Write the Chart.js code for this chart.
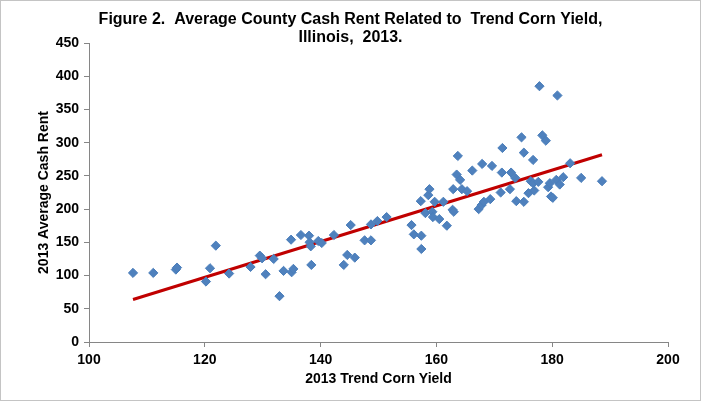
<!DOCTYPE html>
<html>
<head>
<meta charset="utf-8">
<title>Cash Rent vs Trend Corn Yield</title>
<script src="https://cdn.jsdelivr.net/npm/chart.js@4.4.1/dist/chart.umd.min.js"></script>
<style>
	html, body { margin: 0; padding: 0; background: #fff; }
	#wrap { width: 701px; height: 401px; position: relative; }
</style>
</head>
<body>
<div id="wrap"><canvas id="rentChart"></canvas></div>
<script>
// values
const titleLines = ['Figure 2.  Average County Cash Rent Related to  Trend Corn Yield,', 'Illinois,  2013.'];
const xTitle = '2013 Trend Corn Yield';
const yTitle = '2013 Average Cash Rent';
const xTicks = [100, 120, 140, 160, 180, 200];
const yTicks = [0, 50, 100, 150, 200, 250, 300, 350, 400, 450];

const trendYield = [
	107.6, 111.1, 115.0, 115.2, 120.2, 120.9, 121.9, 124.2, 127.9, 129.5,
	129.9, 130.5, 131.9, 132.9, 133.6, 135.0, 135.3, 134.9, 136.6, 138.0,
	138.1, 138.3, 138.4, 139.6, 140.2, 142.3, 144.0, 144.6, 145.2, 145.9,
	147.6, 148.7, 148.7, 149.8, 151.4, 155.7, 156.1, 157.4, 157.4, 157.3,
	158.1, 158.6, 158.8, 159.3, 159.4, 159.7, 160.5, 161.2, 161.8, 162.8,
	163.0, 162.9, 163.5, 163.7, 164.1, 164.4, 165.3, 166.2, 167.3, 167.8,
	168.2, 167.9, 169.3, 169.6, 171.1, 171.3, 171.4, 172.7, 172.9, 173.6,
	173.8, 174.7, 175.1, 175.1, 175.9, 177.8, 180.9, 178.3, 178.9, 176.7,
	183.1, 176.3, 176.7, 177.6, 176.9, 179.3, 179.6, 180.7, 181.3, 181.9,
	179.8, 180.1, 185.0, 188.6
];
const cashRent = [
	104, 104, 109, 112, 91, 111, 145, 103, 113, 130,
	126, 102, 125, 69, 107, 105, 110, 154, 161, 160,
	150, 144, 116, 152, 149, 161, 116, 131, 176, 127,
	153, 153, 177, 182, 188, 176, 162, 160, 140, 212,
	194, 221, 230, 196, 188, 211, 185, 211, 175, 199,
	196, 230, 252, 280, 244, 230, 227, 258, 200, 206,
	211, 268, 215, 265, 225, 255, 292, 230, 255, 247,
	212, 308, 285, 211, 224, 385, 371, 311, 303, 274,
	269, 242, 239, 241, 228, 233, 239, 244, 237, 248,
	219, 217, 247, 242
];

// trend line end points as drawn in the reference
const fitX = [107.6, 188.6];
const fitY = [63.9, 281.9];

const points = trendYield.map((x, i) => ({ x, y: cashRent[i] }));
const fitLine = fitX.map((x, i) => ({ x, y: fitY[i] }));

Chart.defaults.font.family = 'Arial, "Liberation Sans", sans-serif';
Chart.defaults.color = '#000';

const frame = {
	id: 'frame',
	beforeDraw(chart) {
		const { ctx, width, height } = chart;
		ctx.save();
		ctx.fillStyle = '#fff';
		ctx.fillRect(0, 0, width, height);
		ctx.restore();
	},
	afterDraw(chart) {
		const { ctx, width } = chart;
		ctx.save();
		ctx.strokeStyle = '#c4c4c4';
		ctx.lineWidth = 1;
		ctx.strokeRect(0.5, 0.5, 700, 400);
		ctx.fillStyle = '#000';
		ctx.font = 'bold 16px Arial, "Liberation Sans", sans-serif';
		ctx.textAlign = 'center';
		ctx.textBaseline = 'middle';
		titleLines.forEach((line, i) => ctx.fillText(line, width / 2, 20 + i * 18));
		ctx.restore();
	},
};

const axisGrid = {
	display: true,
	drawOnChartArea: false,
	drawTicks: true,
	tickLength: 5,
	color: '#868686',
};

new Chart(document.getElementById('rentChart'), {
	type: 'scatter',
	data: {
		datasets: [
			{
				label: 'Counties',
				data: points,
				pointStyle: 'rectRot',
				pointRadius: 4.6,
				pointBackgroundColor: '#4f81bd',
				pointBorderColor: '#4a7ebb',
				pointBorderWidth: 1,
				order: 0,
			},
			{
				label: 'Trend',
				data: fitLine,
				showLine: true,
				borderColor: '#c00000',
				borderWidth: 3,
				pointRadius: 0,
				order: 1,
			},
		],
	},
	options: {
		responsive: true,
		maintainAspectRatio: false,
		animation: false,
		layout: { padding: { top: 43, right: 33, bottom: 0, left: 0 } },
		plugins: {
			legend: { display: false },
			tooltip: { enabled: false },
		},
		scales: {
			x: {
				type: 'linear',
				min: 100,
				max: 200,
				afterBuildTicks: s => { s.ticks = xTicks.map(v => ({ value: v })); },
				afterFit: s => { s.height = 59; },
				grid: axisGrid,
				border: { display: true, color: '#868686', width: 1 },
				ticks: { padding: 5, font: { size: 14, weight: 'bold' }, maxRotation: 0 },
				title: {
					display: true,
					text: xTitle,
					font: { size: 14, weight: 'bold' },
					padding: { top: 0, bottom: 13 },
				},
			},
			y: {
				type: 'linear',
				min: 0,
				max: 450,
				afterBuildTicks: s => { s.ticks = yTicks.map(v => ({ value: v })); },
				afterFit: s => { s.width = 89; },
				grid: axisGrid,
				border: { display: true, color: '#868686', width: 1 },
				ticks: { padding: 5, font: { size: 14, weight: 'bold' } },
				title: {
					display: true,
					text: yTitle,
					font: { size: 14, weight: 'bold' },
					padding: { top: 36, bottom: 0 },
				},
			},
		},
	},
	plugins: [frame],
});
</script>
</body>
</html>
